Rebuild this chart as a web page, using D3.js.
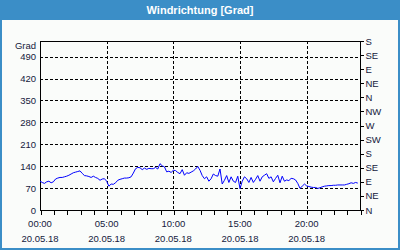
<!DOCTYPE html>
<html>
<head>
<meta charset="utf-8">
<script src="https://cdn.jsdelivr.net/npm/d3@7"></script>
<style>
  body { margin: 0; background: #fff; }
  svg text { font-family: "Liberation Sans", Arial, sans-serif; }
</style>
</head>
<body>
<div id="chart"></div>
<script>
const TITLE = "Windrichtung [Grad]";
const Y_UNIT = "Grad";
const DAY = new Date(2018, 4, 20);
const STEP_MIN = 10;

// Windrichtung in Grad, alle 10 Minuten ab 00:00
const values = [
  92, 88, 85, 90, 92, 87,
  90, 99, 102, 104, 104, 106,
  108, 111, 115, 119, 121, 123,
  125, 117, 110, 109, 107, 104,
  108, 104, 101, 95, 99, 100,
  92, 76, 83, 82, 87, 95,
  98, 100, 102, 102, 103, 106,
  118, 132, 136, 135, 129, 134,
  130, 133, 132, 132, 136, 131,
  148, 141, 138, 122, 124, 120,
  127, 126, 120, 116, 129, 111,
  119, 117, 121, 125, 131, 139,
  127, 110, 100, 106, 92, 100,
  115, 110, 108, 131, 83, 95,
  110, 88, 106, 92, 88, 108,
  68, 92, 106, 100, 88, 104,
  88, 98, 110, 92, 106, 111,
  116, 101, 106, 90, 101, 111,
  87, 108, 92, 96, 94, 101,
  100, 96, 85, 69, 76, 83,
  77, 75, 73, 72, 72, 69,
  71, 74, 76, 77, 78, 78,
  79, 79, 80, 80, 80, 80,
  82, 84, 87, 85, 88, 86
];

const leftTicks = [0, 70, 140, 210, 280, 350, 420, 490];
const rightTicks = [0, 45, 90, 135, 180, 225, 270, 315, 360, 405, 450, 495, 540];
const rightLabels = ["N", "NE", "E", "SE", "S", "SW", "W", "NW", "N", "NE", "E", "SE", "S"];
const majorHours = [0, 5, 10, 15, 20];

const W = 400, H = 250;
const M = { TOP: 41, BOTTOM: 40, LEFT: 40, RIGHT: 40 };
const TEXT = "#15203c";
const FRAME = "#3b8ec7";

const data = values.map((v, i) => ({ t: d3.timeMinute.offset(DAY, i * STEP_MIN), v: v }));

const svg = d3.select("#chart").append("svg")
    .attr("width", W)
    .attr("height", H);

// frame + title bar
svg.append("rect").attr("width", W).attr("height", H).attr("fill", FRAME);
svg.append("rect").attr("x", 2).attr("y", 20).attr("width", W - 4).attr("height", H - 22)
    .attr("fill", "#fafcfa");
svg.append("text")
    .attr("x", W / 2).attr("y", 14)
    .attr("text-anchor", "middle")
    .attr("fill", "#fff")
    .attr("font-weight", "bold")
    .attr("font-size", 11)
    .text(TITLE);

const x = d3.scaleTime()
    .domain([DAY, d3.timeHour.offset(DAY, 24)])
    .range([M.LEFT, W - M.RIGHT]);

const y = d3.scaleLinear()
    .domain([0, 540])
    .range([H - M.BOTTOM, M.TOP]);

const g = svg.append("g").attr("shape-rendering", "crispEdges");

// grid
g.selectAll(".hgrid").data(leftTicks.filter(d => d > 0)).enter()
    .append("line")
    .attr("x1", M.LEFT).attr("x2", W - M.RIGHT)
    .attr("y1", d => Math.round(y(d)) + 0.5).attr("y2", d => Math.round(y(d)) + 0.5)
    .attr("stroke", "#000").attr("stroke-dasharray", "3,2");

g.selectAll(".vgrid").data(majorHours.filter(d => d > 0)).enter()
    .append("line")
    .attr("x1", d => Math.round(x(d3.timeHour.offset(DAY, d))) + 0.5)
    .attr("x2", d => Math.round(x(d3.timeHour.offset(DAY, d))) + 0.5)
    .attr("y1", M.TOP).attr("y2", H - M.BOTTOM)
    .attr("stroke", "#000").attr("stroke-dasharray", "3,2");

// border
g.append("rect")
    .attr("x", M.LEFT + 0.5).attr("y", M.TOP + 0.5)
    .attr("width", W - M.LEFT - M.RIGHT).attr("height", H - M.TOP - M.BOTTOM)
    .attr("fill", "none").attr("stroke", "#000");

// bottom axis: hourly ticks, labels every 5 hours
const xAxisCall = d3.axisBottom(x)
    .ticks(d3.timeHour.every(1))
    .tickSize(4)
    .tickFormat("");
const xAxis = svg.append("g")
    .attr("transform", `translate(0.5, ${H - M.BOTTOM + 0.5})`)
    .call(xAxisCall);
xAxis.select(".domain").remove();
xAxis.selectAll("line").attr("stroke", "#000").attr("shape-rendering", "crispEdges");

const fmtTime = d3.timeFormat("%H:%M");
const fmtDate = d3.timeFormat("%d.%m.%y");
const xl = svg.append("g").attr("fill", TEXT).attr("font-size", 9.5).attr("text-anchor", "middle");
majorHours.forEach(h => {
    const t = d3.timeHour.offset(DAY, h);
    xl.append("text").attr("x", x(t)).attr("y", H - M.BOTTOM + 17).text(fmtTime(t));
    xl.append("text").attr("x", x(t)).attr("y", H - M.BOTTOM + 32).text(fmtDate(t));
});

// left axis labels
const yAxisCall = d3.axisLeft(y).tickValues(leftTicks).tickSize(0).tickPadding(4);
const yAxis = svg.append("g")
    .attr("transform", `translate(${M.LEFT}, 0)`)
    .call(yAxisCall);
yAxis.select(".domain").remove();
yAxis.selectAll("text").attr("fill", TEXT).attr("font-size", 9.5)
    .attr("font-family", "Liberation Sans, Arial, sans-serif");
svg.append("text")
    .attr("x", M.LEFT - 4).attr("y", M.TOP + 7.5)
    .attr("text-anchor", "end")
    .attr("fill", TEXT).attr("font-size", 9.5)
    .text(Y_UNIT);

// right axis: compass directions
const yRight = d3.axisRight(y).tickValues(rightTicks).tickSize(3).tickPadding(2)
    .tickFormat((d, i) => rightLabels[i]);
const yR = svg.append("g")
    .attr("transform", `translate(${W - M.RIGHT + 0.5}, 0)`)
    .call(yRight);
yR.select(".domain").remove();
yR.selectAll("line").attr("stroke", "#000").attr("shape-rendering", "crispEdges");
yR.selectAll("text").attr("fill", TEXT).attr("font-size", 9.5)
    .attr("font-family", "Liberation Sans, Arial, sans-serif");

// data line
const line = d3.line()
    .x(d => x(d.t))
    .y(d => y(d.v));
svg.append("path")
    .datum(data)
    .attr("d", line)
    .attr("fill", "none")
    .attr("stroke", "#0000ff")
    .attr("stroke-width", 1);
</script>
</body>
</html>
